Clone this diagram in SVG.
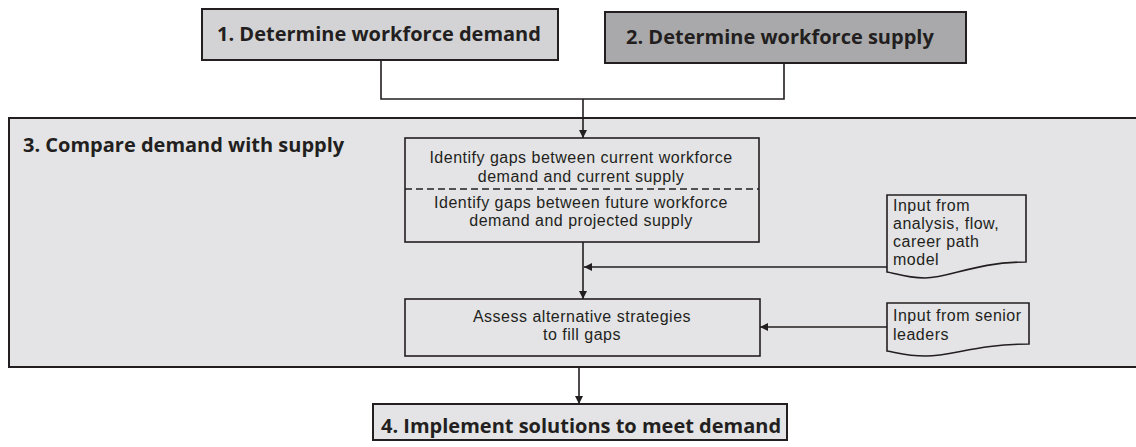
<svg xmlns="http://www.w3.org/2000/svg" width="1136" height="447" viewBox="0 0 1136 447">
<style>
.box{stroke:#231f20;stroke-width:2}
.inner{fill:none;stroke:#231f20;stroke-width:1.6}
.doc{fill:#e4e4e6;stroke:#231f20;stroke-width:1.6}
.big{font-family:"Open Sans","Liberation Sans",sans-serif;font-weight:bold;font-size:20px;fill:#231f20}
.sm{font-family:"Liberation Sans",Arial,sans-serif;font-size:16px;letter-spacing:0.5px;fill:#231f20}
.ln{fill:none;stroke:#231f20;stroke-width:1.6}
</style>
<defs>
<marker id="ah" viewBox="0 0 10 10" refX="10" refY="5" markerWidth="8" markerHeight="8" markerUnits="userSpaceOnUse" orient="auto">
<path d="M0,0 L10,5 L0,10 Z" fill="#231f20"/>
</marker>
</defs>
<rect width="1136" height="447" fill="#ffffff"/>
<g id="step3">
<rect class="box" x="9" y="118" width="1140" height="249" fill="#e4e4e6"/>
<text class="big" x="23" y="152">3. Compare demand with supply</text>
</g>
<g id="step1">
<rect class="box" x="202" y="9" width="356" height="51" fill="#d3d3d5"/>
<text class="big" x="217" y="41">1. Determine workforce demand</text>
</g>
<g id="step2">
<rect class="box" x="605" y="12" width="361" height="51" fill="#a9a9ab"/>
<text class="big" x="626" y="44">2. Determine workforce supply</text>
</g>
<g id="gaps">
<rect class="inner" x="405" y="138" width="354" height="104"/>
<line x1="405" y1="189" x2="759" y2="189" stroke="#231f20" stroke-width="1.6" stroke-dasharray="7,4"/>
<text class="sm" text-anchor="middle" x="581" y="163">Identify gaps between current workforce</text>
<text class="sm" text-anchor="middle" x="581" y="182">demand and current supply</text>
<text class="sm" text-anchor="middle" x="581" y="208">Identify gaps between future workforce</text>
<text class="sm" text-anchor="middle" x="581" y="226">demand and projected supply</text>
</g>
<g id="assess">
<rect class="inner" x="405" y="299" width="355" height="57"/>
<text class="sm" text-anchor="middle" x="582" y="322">Assess alternative strategies</text>
<text class="sm" text-anchor="middle" x="582" y="340">to fill gaps</text>
</g>
<g id="input1">
<path class="doc" d="M887,195 H1026 V262 C975,262 950,278 925,278 C905,278 895,273 887,272 Z"/>
<text class="sm" x="893" y="211">Input from</text>
<text class="sm" x="893" y="229">analysis, flow,</text>
<text class="sm" x="893" y="247">career path</text>
<text class="sm" x="893" y="265">model</text>
</g>
<g id="input2">
<path class="doc" d="M887,303 H1029 V344 C978,344 952,356 926,356 C905,356 895,352 887,351 Z"/>
<text class="sm" x="893" y="321">Input from senior</text>
<text class="sm" x="893" y="340">leaders</text>
</g>
<g id="step4">
<rect class="box" x="373" y="404" width="414" height="36" fill="#e4e4e6"/>
<text class="big" x="381" y="433">4. Implement solutions to meet demand</text>
</g>
<g id="connectors">
<polyline class="ln" points="381,60 381,99 784,99 784,63"/>
<line class="ln" x1="583" y1="99" x2="583" y2="138" marker-end="url(#ah)"/>
<line class="ln" x1="583" y1="242" x2="583" y2="299" marker-end="url(#ah)"/>
<line class="ln" x1="887" y1="267" x2="584" y2="267" marker-end="url(#ah)"/>
<line class="ln" x1="887" y1="327" x2="760" y2="327" marker-end="url(#ah)"/>
<line class="ln" x1="579" y1="368" x2="579" y2="404" marker-end="url(#ah)"/>
</g>
</svg>
